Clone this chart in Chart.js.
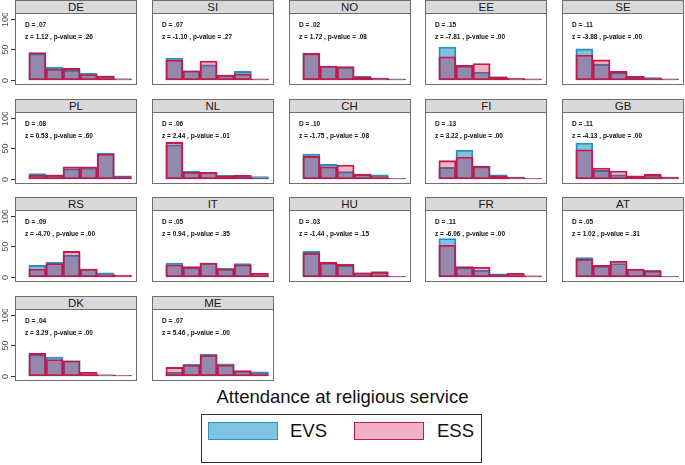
<!DOCTYPE html>
<html>
<head>
<meta charset="utf-8">
<script src="https://cdn.jsdelivr.net/npm/chart.js@4.4.0/dist/chart.umd.min.js"></script>
<style>
  body { margin: 0; background: #fff; font-family: "Liberation Sans", Arial, sans-serif; }
  #wrap { position: relative; width: 685px; height: 465px; overflow: hidden; background: #fff; }
  .strip { position: absolute; box-sizing: border-box; height: 14px; background: #d9d9d9;
           border: 1px solid #6e6e6e; font-size: 11.5px; line-height: 12px; text-align: center; color: #1a1a1a; }
  .panel { position: absolute; }
  #title { position: absolute; left: 0; width: 685px; top: 386px; text-align: center; font-size: 18.5px; color: #111; }
  #legend { position: absolute; left: 201px; top: 414px; width: 281px; height: 49px; box-sizing: border-box; border: 1px solid #333; }
  .key { position: absolute; top: 7px; width: 70px; height: 18px; box-sizing: border-box; border: 1.5px solid; }
  .klab { position: absolute; top: 6px; font-size: 18.5px; line-height: 20px; color: #111; }
</style>
</head>
<body>
<div id="wrap">
  <div id="title">Attendance at religious service</div>
  <div id="legend">
    <div class="key" style="left:6px;background:rgba(0,135,190,0.5);border-color:#2b93c3"></div>
    <div class="klab" style="left:88px">EVS</div>
    <div class="key" style="left:152px;background:rgba(200,0,60,0.3);border-color:#c8194b"></div>
    <div class="klab" style="left:235px">ESS</div>
  </div>
</div>
<script>
const countries = ["DE", "SI", "NO", "EE", "SE", "PL", "NL", "CH", "FI", "GB", "RS", "IT", "HU", "FR", "AT", "DK", "ME"];
const dStat = [".07", ".07", ".02", ".15", ".11", ".08", ".06", ".10", ".13", ".11", ".09", ".05", ".03", ".11", ".05", ".04", ".07"];
const zStat = ["1.12", "-1.10", "1.72", "-7.81", "-3.88", "0.53", "2.44", "-1.75", "3.22", "-4.13", "-4.70", "0.94", "-1.44", "-6.06", "1.02", "3.29", "5.46"];
const pValue = [".26", ".27", ".08", ".00", ".00", ".60", ".01", ".08", ".00", ".00", ".00", ".35", ".15", ".00", ".31", ".00", ".00"];

const bins = [1, 2, 3, 4, 5, 6];
const yTicks = [0, 50, 100];

// percentage per attendance category
const evsShares = [
  [43, 21, 16, 11, 7, 2],   // DE
  [36, 15, 25, 8, 14, 1],   // SI
  [43, 23, 21, 6, 3, 2],    // NO
  [54, 23, 13, 5, 2, 1],    // EE
  [51, 26, 12, 5, 4, 1],    // SE
  [9, 7, 17, 18, 42, 5],    // PL
  [56, 13, 11, 6, 5, 4],    // NL
  [41, 24, 12, 8, 7, 1],    // CH
  [19, 47, 20, 7, 3, 1],    // FI
  [59, 14, 7, 3, 6, 3],     // GB
  [19, 24, 36, 13, 7, 2],   // RS
  [23, 15, 23, 14, 22, 4],  // IT
  [42, 23, 19, 7, 9, 1],    // HU
  [63, 15, 11, 5, 4, 2],    // FR
  [32, 18, 22, 13, 11, 1],  // AT
  [35, 31, 25, 4, 2, 1],    // DK
  [6, 19, 36, 20, 8, 7]     // ME
];
const essShares = [
  [45, 18, 19, 9, 6, 2],
  [33, 15, 31, 8, 10, 2],
  [44, 23, 22, 5, 3, 1],
  [38, 24, 27, 5, 3, 2],
  [41, 33, 14, 6, 3, 2],
  [6, 6, 20, 20, 41, 4],
  [60, 11, 11, 5, 6, 2],
  [37, 20, 23, 8, 4, 1],
  [30, 36, 21, 5, 3, 1],
  [48, 18, 13, 5, 8, 3],
  [13, 22, 42, 13, 4, 3],
  [20, 17, 23, 13, 20, 6],
  [39, 24, 21, 7, 8, 1],
  [52, 17, 16, 4, 6, 2],
  [29, 19, 26, 13, 10, 1],
  [37, 27, 25, 6, 2, 1],
  [14, 18, 34, 18, 9, 4]
];

const wrap = document.getElementById("wrap");
const rowTops = [0, 98.5, 197, 296];
const colW = 122;
const leftPad = 15;

function colLeft(c) { return 15 + c * 136.75; }

const panelDecor = {
  id: "panelDecor",
  afterDatasetsDraw(chart, args, opts) {
    const ctx = chart.ctx;
    const a = chart.chartArea;
    ctx.save();
    ctx.strokeStyle = "#6e6e6e";
    ctx.lineWidth = 1;
    ctx.strokeRect(Math.round(a.left) + 0.5, Math.round(a.top) - 0.5, Math.round(a.right - a.left) - 1, Math.round(a.bottom - a.top));
    ctx.fillStyle = "#111";
    ctx.font = "bold 6.5px 'Liberation Sans', Arial, sans-serif";
    ctx.textBaseline = "middle";
    ctx.textAlign = "left";
    ctx.fillText("D = " + opts.d, a.left + 10, a.top + 12);
    ctx.fillText("z = " + opts.z + " , p-value = " + opts.p, a.left + 10, a.top + 24);
    if (opts.axis) {
      const y = chart.scales.y;
      ctx.strokeStyle = "#333";
      ctx.fillStyle = "#4d4d4d";
      ctx.font = "9px 'Liberation Sans', Arial, sans-serif";
      ctx.textAlign = "center";
      yTicks.forEach(v => {
        const py = Math.round(y.getPixelForValue(v)) + 0.5;
        ctx.beginPath();
        ctx.moveTo(a.left - 4, py);
        ctx.lineTo(a.left, py);
        ctx.stroke();
        ctx.save();
        ctx.translate(a.left - 9, py);
        ctx.rotate(-Math.PI / 2);
        ctx.fillText(String(v), 0, 0);
        ctx.restore();
      });
    }
    ctx.restore();
  }
};

countries.forEach((name, i) => {
  const r = Math.floor(i / 5), c = i % 5;
  const top = rowTops[r];
  const left = colLeft(c);

  const strip = document.createElement("div");
  strip.className = "strip";
  strip.style.left = left + "px";
  strip.style.top = top + "px";
  strip.style.width = colW + "px";
  strip.textContent = name;
  wrap.appendChild(strip);

  const first = c === 0;
  const box = document.createElement("div");
  box.className = "panel";
  const cw = first ? colW + leftPad : colW;
  box.style.left = (first ? left - leftPad : left) + "px";
  box.style.top = (top + 13) + "px";
  const canvas = document.createElement("canvas");
  canvas.width = cw;
  canvas.height = 72;
  box.appendChild(canvas);
  wrap.appendChild(box);

  new Chart(canvas, {
    type: "bar",
    data: {
      datasets: [
        {
          label: "ESS",
          data: bins.map((b, k) => ({ x: b, y: essShares[i][k] })),
          backgroundColor: "rgba(200,0,60,0.3)",
          borderColor: "#c8194b",
          borderWidth: 1.2,
          borderSkipped: false,
          grouped: false,
          order: 1
        },
        {
          label: "EVS",
          data: bins.map((b, k) => ({ x: b, y: evsShares[i][k] })),
          backgroundColor: "rgba(0,135,190,0.5)",
          borderColor: "#2b93c3",
          borderWidth: 1.2,
          borderSkipped: false,
          grouped: false,
          order: 2
        }
      ]
    },
    options: {
      responsive: false,
      animation: false,
      barPercentage: 1,
      categoryPercentage: 1,
      layout: { padding: { left: first ? leftPad : 0, top: 0, right: 0, bottom: 0 } },
      plugins: {
        legend: { display: false },
        tooltip: { enabled: false },
        panelDecor: { d: dStat[i], z: zStat[i], p: pValue[i], axis: first }
      },
      scales: {
        x: { type: "linear", min: -0.31, max: 6.83, offset: false, display: false },
        y: { min: -8.2, max: 109.8, display: false }
      }
    },
    plugins: [panelDecor]
  });
});
</script>
</body>
</html>
